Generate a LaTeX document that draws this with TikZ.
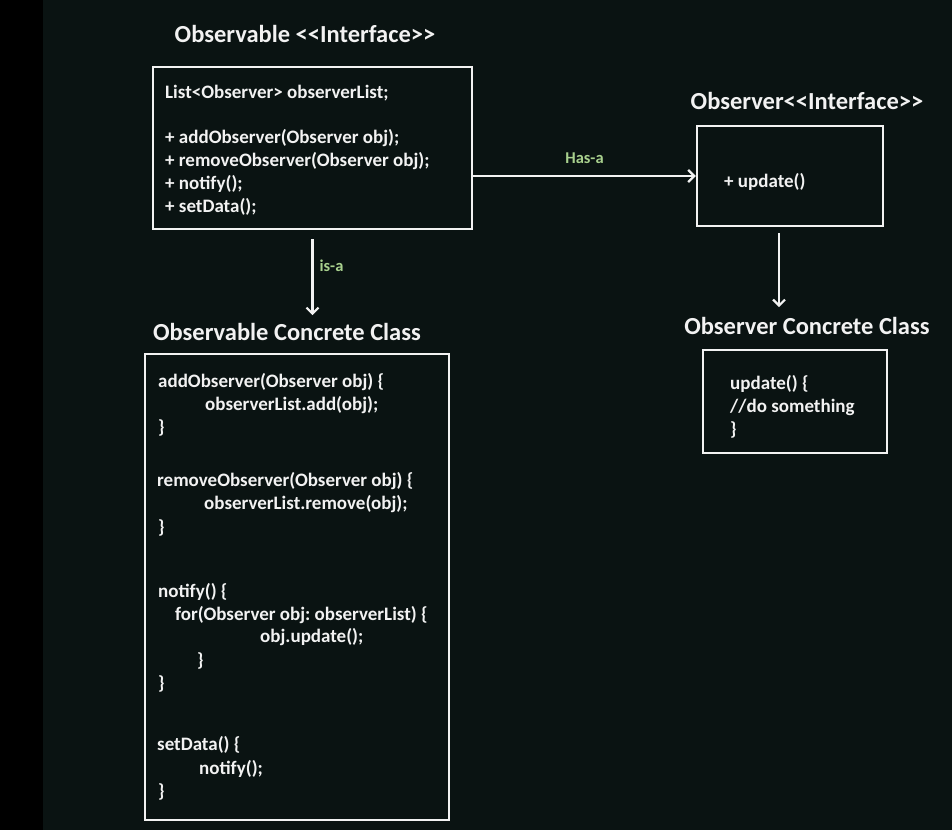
\documentclass[tikz,border=0pt]{standalone}
\usepackage{fontspec}
\setmainfont{Carlito}
\usetikzlibrary{arrows.meta}
\definecolor{bg}{HTML}{0A1312}
\definecolor{fg}{HTML}{F2F2F2}
\definecolor{lbl}{HTML}{A9D18E}
\frenchspacing
\begin{document}
\begin{tikzpicture}[x=1pt,y=-1pt,
  title/.style={font=\fontsize{24.5}{29}\selectfont\bfseries,text=fg,inner sep=0pt},
  code/.style={font=\fontsize{19}{23}\selectfont\bfseries,text=fg,inner sep=0pt,anchor=base west},
  lab/.style={font=\fontsize{16.5}{20}\selectfont\bfseries,text=lbl,inner sep=0pt},
  box/.style={draw=fg,line width=2.5pt,inner sep=0pt},
  conn/.style={draw=fg,line width=2.5pt,-{Straight Barb[length=6pt,width=12pt,line width=2.2pt]}}]
\fill[bg] (0,0) rectangle (952,830);
\fill[black] (0,0) rectangle (43,830);
\useasboundingbox (0,0) rectangle (952,830);

% boxes
\node[box,minimum width=319pt,minimum height=162pt] (b1) at (312.5,148) {};
\node[box,minimum width=186pt,minimum height=100pt] (b2) at (790,176) {};
\node[box,minimum width=184pt,minimum height=103pt] (b3) at (795,401.5) {};
\node[box,minimum width=304pt,minimum height=466pt] (b4) at (297,587) {};

% titles
\node[title] (t1) at (305,34) {Observable <{}<Interface>{}>};
\node[title] (t2) at (807,101) {Observer<{}<Interface>{}>};
\node[title] (t3) at (287,332) {Observable Concrete Class};
\node[title] (t4) at (807,326) {Observer Concrete Class};

% box 1 text
\node[code] (l1) at (165,98) {List<Observer> observerList;};
\node[code] (l2) at (165,143) {+ addObserver(Observer obj);};
\node[code] (l3) at (165,166) {+ removeObserver(Observer obj);};
\node[code] (l4) at (165,189) {+ notify();};
\node[code] (l5) at (165,212) {+ setData();};

% box 2 text
\node[code] (u1) at (724,187) {+ update()};

% box 3 text
\node[code] (c1) at (730,389) {update() \{};
\node[code] (c2) at (730,412) {//do something};
\node[code] (c3) at (730,435) {\}};

% box 4 text
\node[code] (k1) at (158,387) {addObserver(Observer obj) \{};
\node[code] (k2) at (205,410) {observerList.add(obj);};
\node[code] (k3) at (158,433) {\}};
\node[code] (k4) at (157,486) {removeObserver(Observer obj) \{};
\node[code] (k5) at (204,509) {observerList.remove(obj);};
\node[code] (k6) at (158,533) {\}};
\node[code] (k7) at (158,597) {notify() \{};
\node[code] (k8) at (175,620) {for(Observer obj: observerList) \{};
\node[code] (k9) at (260,642) {obj.update();};
\node[code] (k10) at (197,666) {\}};
\node[code] (k11) at (158,689) {\}};
\node[code] (k12) at (157,750) {setData() \{};
\node[code] (k13) at (199,774) {notify();};
\node[code] (k14) at (158,797) {\}};

% connectors
\coordinate (a1s) at ([yshift=-9pt]b1.south);
\coordinate (a1e) at ([yshift=8pt]t3.north -| b1.south);
\draw[conn] (b1.east |- b2.west) -- node[lab,pos=0.5,yshift=18pt]{Has-a} (b2.west);
\draw[conn] (a1s) -- node[lab,pos=0.35,xshift=19pt]{is-a} (a1e);
\coordinate (a2s) at ([yshift=-6pt,xshift=-11pt]b2.south);
\coordinate (a2e) at ([yshift=10pt]a2s |- t4.north);
\draw[conn] (a2s) -- (a2e);
\end{tikzpicture}
\end{document}
